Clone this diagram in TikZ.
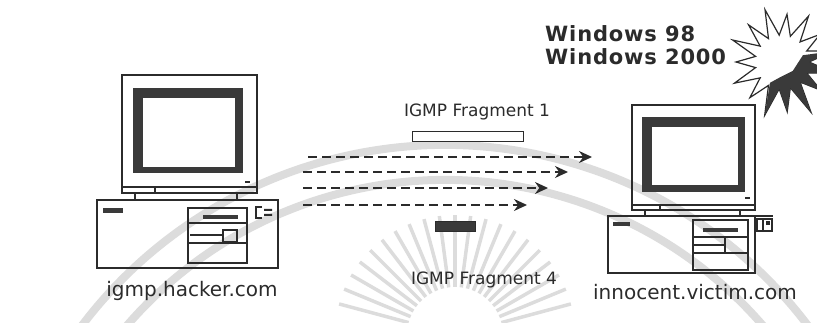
\documentclass[tikz,border=0pt]{standalone}
\usepackage{fontspec}
\setmainfont{DejaVu Sans}
\newfontfamily\osfont[LetterSpace=4]{DejaVu Sans Bold}
\usetikzlibrary{arrows.meta}
\definecolor{ink}{HTML}{2B2B2B}
\definecolor{bezel}{HTML}{3A3A3A}
\definecolor{wmark}{HTML}{DCDCDC}

\begin{document}
\begin{tikzpicture}[x=1pt,y=-1pt,
  outline/.style={draw=ink,line width=1.1pt},
  flow/.style={draw=ink,line width=1.4pt,dash pattern=on 9pt off 5pt,
    -{Stealth[length=13pt,width=12pt]}},
  hostlabel/.style={font=\fontsize{20}{22}\selectfont,text=ink,inner sep=0pt},
  fraglabel/.style={font=\fontsize{17}{19}\selectfont,text=ink,inner sep=0pt},
  oslabel/.style={font=\fontsize{21}{23}\osfont,text=ink,
    inner sep=0pt,anchor=west},
  packet/.style={draw=ink,line width=1pt,inner sep=0pt,minimum height=10pt},
  watermark/.style={draw=wmark,line width=8pt},
  ray/.style={draw=wmark,line width=3.5pt}]
\useasboundingbox (0,0) rectangle (817,323);
\clip (0,0) rectangle (817,323);

% faint background emblem
\draw[watermark] (445,600) ++(-160:455) arc[start angle=-160,end angle=-20,radius=455];
\draw[watermark] (445,600) ++(-158:420) arc[start angle=-158,end angle=-22,radius=420];
\foreach \a in {-165,-157.5,...,-15}
  \draw[ray] (455,335) ++(\a:48) -- ++(\a:72);

% ---- attacker host ----
\draw[outline] (122,75) rectangle (257,193);
\draw[outline] (122,187) -- (257,187) (155,187) -- (155,193);
\fill[bezel] (133,88) rectangle (243,173);
\fill[white] (143,98) rectangle (235,167);
\fill[ink] (245,181) rectangle (250,183);
\draw[outline] (135,193) -- (135,200) (237,193) -- (237,200);
\draw[outline] (97,200) rectangle (278,268);
\fill[bezel] (103,208) rectangle (123,213);
\draw[outline] (188,208) rectangle (247,263);
\draw[outline] (188,223) -- (247,223) (188,243) -- (247,243) (190,235) -- (223,235);
\fill[bezel] (203,215) rectangle (238,219);
\draw[outline] (223,230) rectangle (237,242);
\draw[outline] (262,207) -- (256,207) -- (256,218) -- (262,218);
\fill[ink] (264,209) rectangle (272,211) (264,214) rectangle (272,216);
\node[hostlabel] (hacker) at (192,291) {igmp.hacker.com};

% ---- target host ----
\draw[outline] (632,105) rectangle (755,210);
\draw[outline] (632,205) -- (755,205) (660,205) -- (660,210);
\fill[bezel] (642,117) rectangle (745,192);
\fill[white] (652,127) rectangle (738,185);
\fill[ink] (745,197) rectangle (750,199);
\draw[outline] (645,210) -- (645,216) (740,210) -- (740,216);
\draw[outline] (608,216) rectangle (755,273);
\draw[outline] (755,216) -- (773,216);
\fill[bezel] (613,222) rectangle (630,226);
\draw[outline] (693,220) rectangle (748,270);
\draw[outline] (693,237) -- (748,237) (693,253) -- (748,253) (725,237) -- (725,253)
  (693,245) -- (725,245);
\fill[bezel] (703,228) rectangle (738,232);
\draw[outline] (757,219) rectangle (772,231) (763,219) -- (763,231);
\fill[ink] (766,221) rectangle (770,225);
\node[hostlabel] (victim) at (695,292) {innocent.victim.com};

% ---- fragments in flight ----
\node[fraglabel] (frag1) at (477,112) {IGMP Fragment 1};
\node[packet,minimum width=111pt,fill=white] (pkt1) at (467.5,137) {};
\node[packet,minimum width=40pt,fill=bezel] (pkt4) at (455,227) {};
\node[fraglabel] (frag4) at (484,280) {IGMP Fragment 4};

\coordinate (s1) at (308,157); \coordinate (e1) at (592,157);
\coordinate (s2) at (303,172); \coordinate (e2) at (568,172);
\coordinate (s3) at (303,188); \coordinate (e3) at (548,188);
\coordinate (s4) at (303,205); \coordinate (e4) at (527,205);
\draw[flow] (s1) -- (e1);
\draw[flow] (s2) -- (e2);
\draw[flow] (s3) -- (e3);
\draw[flow] (s4) -- (e4);

% ---- crash burst ----
\coordinate (burst) at (782,62);
\filldraw[fill=white,draw=ink,line width=1.2pt,line join=miter]
  ([shift={(burst)}]0:27)
  \foreach \i/\ro in {1/54,2/48,3/58,4/50,5/56,6/48,7/52,8/46,9/54,10/50,
                      11/55,12/48,13/53,14/47,15/52}
  { -- ([shift={(burst)}]\i*24-12:\ro) -- ([shift={(burst)}]\i*24:27) } -- cycle;
% scorched side of the burst
\fill[bezel] ([shift={(burst)}]-18:22) -- ([shift={(burst)}]-12:52)
  -- ([shift={(burst)}]0:27) -- ([shift={(burst)}]12:54)
  -- ([shift={(burst)}]24:27) -- ([shift={(burst)}]36:48)
  -- ([shift={(burst)}]48:27) -- ([shift={(burst)}]60:58)
  -- ([shift={(burst)}]72:27) -- ([shift={(burst)}]84:50)
  -- ([shift={(burst)}]96:27) -- ([shift={(burst)}]108:56)
  -- ([shift={(burst)}]120:24) -- ([shift={(burst)}]100:16)
  -- ([shift={(burst)}]40:14) -- cycle;

\node[oslabel] (os98) at (545,34) {Windows 98};
\node[oslabel] (os2000) at (545,57) {Windows 2000};
\end{tikzpicture}
\end{document}
